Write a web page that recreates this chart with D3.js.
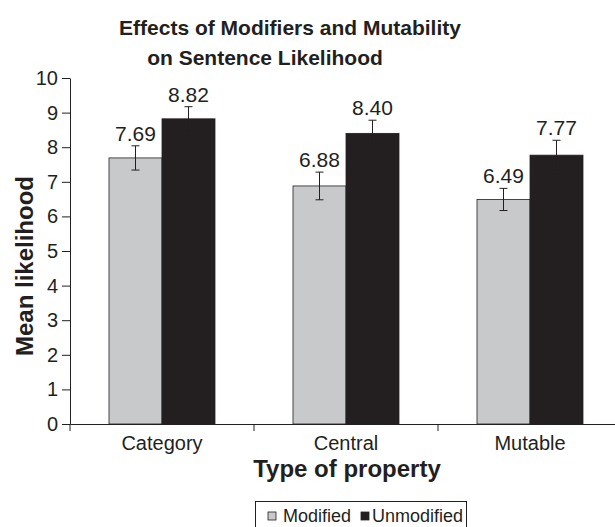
<!DOCTYPE html>
<html><head><meta charset="utf-8">
<script src="https://cdn.jsdelivr.net/npm/d3@7"></script>
<style>
html,body{margin:0;padding:0;background:#fff;}
svg{display:block;font-family:"Liberation Sans",Arial,Helvetica,sans-serif;}
</style></head>
<body>
<svg id="chart" width="615" height="527"></svg>
<script>
const categories = ["Category", "Central", "Mutable"];
const seriesNames = ["Modified", "Unmodified"];
const modifiedValues = [7.69, 6.88, 6.49];
const unmodifiedValues = [8.82, 8.40, 7.77];
const modifiedErrors = [0.35, 0.40, 0.32];
const unmodifiedErrors = [0.35, 0.38, 0.43];
const yTicks = [0,1,2,3,4,5,6,7,8,9,10];
const valueLabels = [["7.69","6.88","6.49"],["8.82","8.40","7.77"]];

const ink = "#231f20";
const colors = {"Modified":"#c8c9cb","Unmodified":"#231f20"};

const svg = d3.select("#chart");
const plotLeft = 70, plotRight = 622, plotTop = 78, plotBottom = 424;

const x = d3.scaleBand().domain(categories).range([plotLeft, plotRight]).paddingInner(0).paddingOuter(0);
const xs = d3.scaleBand().domain(seriesNames).range([0, x.bandwidth()]).paddingInner(0).paddingOuter(0.736);
const y = d3.scaleLinear().domain([0, 10]).range([plotBottom, plotTop]);

const data = [];
categories.forEach((c, i) => {
  data.push({cat:c, s:"Modified", v:modifiedValues[i], e:modifiedErrors[i], lab:valueLabels[0][i]});
  data.push({cat:c, s:"Unmodified", v:unmodifiedValues[i], e:unmodifiedErrors[i], lab:valueLabels[1][i]});
});

// bars
svg.append("g").selectAll("rect").data(data).join("rect")
  .attr("x", d => x(d.cat) + xs(d.s))
  .attr("y", d => y(d.v))
  .attr("width", xs.bandwidth())
  .attr("height", d => y(0) - y(d.v))
  .attr("fill", d => colors[d.s])
  .attr("stroke", ink).attr("stroke-width", 0.8);

// error bars
const eg = svg.append("g").attr("stroke", ink).attr("stroke-width", 1);
data.forEach(d => {
  const cx = x(d.cat) + xs(d.s) + xs.bandwidth()/2;
  eg.append("line").attr("x1", cx).attr("x2", cx).attr("y1", y(d.v + d.e)).attr("y2", y(d.v - d.e));
  eg.append("line").attr("x1", cx-4).attr("x2", cx+4).attr("y1", y(d.v + d.e)).attr("y2", y(d.v + d.e));
  eg.append("line").attr("x1", cx-4).attr("x2", cx+4).attr("y1", y(d.v - d.e)).attr("y2", y(d.v - d.e));
});

// value labels
svg.append("g").selectAll("text").data(data).join("text")
  .attr("x", d => x(d.cat) + xs(d.s) + xs.bandwidth()/2)
  .attr("y", d => y(d.v + d.e) - 5)
  .attr("text-anchor", "middle")
  .attr("font-size", 21)
  .attr("fill", ink)
  .text(d => d.lab);

// y axis
const yAxis = svg.append("g").attr("transform", `translate(${plotLeft},0)`)
  .call(d3.axisLeft(y).tickValues(yTicks).tickFormat(d3.format("d")).tickSize(8).tickSizeOuter(0).tickPadding(4));
yAxis.selectAll("text").attr("font-size", 20).attr("fill", ink).attr("font-family", "Liberation Sans, Arial, sans-serif");
yAxis.selectAll("line,path").attr("stroke", ink);

// x axis
const xAxis = svg.append("g").attr("transform", `translate(0,${plotBottom})`)
  .call(d3.axisBottom(x).tickSize(0).tickSizeOuter(0).tickPadding(12));
xAxis.selectAll("text").attr("font-size", 20).attr("fill", ink).attr("font-family", "Liberation Sans, Arial, sans-serif");
xAxis.selectAll("path").attr("stroke", ink);
const bounds = categories.map(c => x(c));
xAxis.selectAll("line.bound").data(bounds).join("line").attr("class","bound")
  .attr("x1", d => d).attr("x2", d => d).attr("y1", 0).attr("y2", 7).attr("stroke", ink);

// titles
const title = svg.append("g").attr("font-weight", "bold").attr("fill", ink).attr("font-size", 21).attr("text-anchor", "middle");
title.append("text").attr("x", 290).attr("y", 35).text("Effects of Modifiers and Mutability");
title.append("text").attr("x", 265).attr("y", 65).text("on Sentence Likelihood");

svg.append("text").attr("transform", `translate(33,266) rotate(-90)`)
  .attr("text-anchor", "middle").attr("font-weight", "bold").attr("font-size", 24).attr("fill", ink)
  .text("Mean likelihood");

svg.append("text").attr("x", 347).attr("y", 477).attr("text-anchor", "middle")
  .attr("font-weight", "bold").attr("font-size", 24).attr("fill", ink).text("Type of property");

// legend
const lg = svg.append("g");
lg.append("rect").attr("x", 255.5).attr("y", 501.5).attr("width", 211).attr("height", 40)
  .attr("fill", "none").attr("stroke", ink).attr("stroke-width", 1);
const legendX = [268, 361];
const legendTextX = [283, 372];
seriesNames.forEach((s, i) => {
  lg.append("rect").attr("x", legendX[i]).attr("y", 512).attr("width", 8).attr("height", 8)
    .attr("fill", colors[s]).attr("stroke", ink).attr("stroke-width", 0.8);
  lg.append("text").attr("x", legendTextX[i]).attr("y", 522).attr("font-size", 18).attr("fill", ink).text(s);
});
</script>
</body></html>
